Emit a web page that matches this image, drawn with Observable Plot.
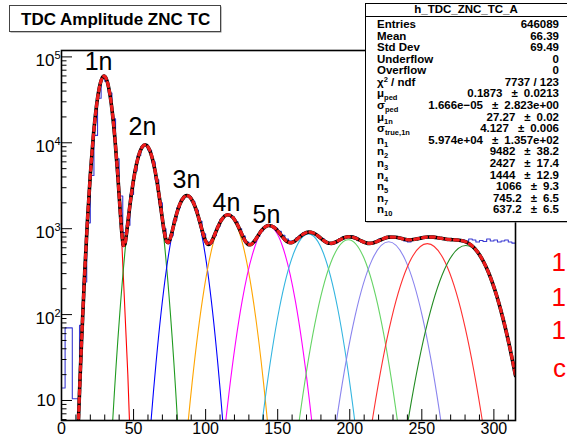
<!DOCTYPE html>
<html><head><meta charset="utf-8">
<script src="https://cdn.jsdelivr.net/npm/d3@7"></script>
<script src="https://cdn.jsdelivr.net/npm/@observablehq/plot@0.6"></script>
<style>
html,body{margin:0;padding:0;background:#fff;}
#wrap{position:relative;width:567px;height:438px;overflow:hidden;background:#fff;font-family:"Liberation Sans",Arial,sans-serif;}
#wrap svg{position:absolute;left:0;top:0;}
</style></head>
<body><div id="wrap"></div>
<script>
// ---------------- data ----------------
const titleText = "TDC Amplitude ZNC TC";
const histName = "h_TDC_ZNC_TC_A";
const binStart = 0, binWidth = 2.5;
const histValues = [
  14, 70, 70, 10.5, 10.5, 75, 240, 1170, 4170, 12200,
  33000, 56000, 52000, 38000, 19000, 6500, 2400, 900, 1100, 2500,
  4700, 7100, 9000, 9500, 8200, 6000, 3700, 2000, 1000, 700,
  830, 1250, 1750, 2200, 2420, 2350, 2080, 1650, 1220, 870,
  700, 680, 830, 1060, 1290, 1430, 1450, 1370, 1200, 1000,
  820, 700, 660, 700, 810, 940, 1050, 1100, 1080, 1010,
  930, 840, 760, 720, 720, 780, 840, 900, 920, 900,
  850, 790, 760, 700, 660, 680, 720, 770, 800, 790,
  820, 800, 740, 700, 680, 680, 690, 720, 760, 770,
  800, 790, 800, 780, 760, 720, 700, 740, 760, 770,
  790, 800, 800, 790, 780, 770, 750, 750, 740, 740,
  730, 740, 720, 760, 740, 700, 730, 710, 760, 720,
  740, 700, 720, 740, 700, 680
];
const totalX = [
  11, 12, 13, 14, 16, 18, 20, 22, 24, 26,
  28, 29.5, 31, 33, 35, 37, 39, 41, 42, 43,
  44, 45, 46, 48, 50, 52, 54, 56, 58, 60,
  62, 64, 66, 68, 70, 71, 72, 73, 74, 75,
  76, 78, 80, 82, 84, 87, 90, 92, 94, 96,
  98, 99, 100, 101, 102, 103, 104, 106, 108, 111,
  115.4, 119, 122, 124, 126, 127, 128, 129, 130, 131,
  132, 134, 136, 139, 143.8, 148, 151, 153, 155, 156,
  157, 158, 159, 160, 162, 165, 168, 171.4, 175, 178,
  181, 183, 185, 186, 187, 188, 190, 193, 196, 199,
  202, 205, 208, 210, 212, 213, 214, 216, 219, 222,
  227, 232, 236, 239, 240, 241, 243, 246, 250, 253.8,
  258, 262, 265, 267, 269, 271, 274, 277, 280.5, 284,
  287, 290, 293, 296, 299, 302, 305, 308, 311, 313,
  315
];
const totalY = [
  2.63, 7.55, 20.5, 52.2, 286, 1239, 4236, 11480, 24600, 41690,
  55870, 59740, 55870, 41690, 24604, 11495, 4284, 1376, 835, 637,
  662, 849, 1170, 2193, 3714, 5598, 7503, 8945, 9483, 8947,
  7508, 5612, 3746, 2261, 1293, 995, 805, 708, 688, 731,
  825, 1126, 1511, 1903, 2223, 2431, 2235, 1926, 1554, 1191,
  900, 795, 719, 673, 657, 667, 702, 828, 1001, 1265,
  1454, 1344, 1116, 948, 801, 743, 698, 668, 652, 651,
  664, 723, 813, 961, 1091, 1022, 901, 816, 745, 719,
  701, 690, 687, 692, 721, 796, 871, 913, 888, 823,
  748, 707, 682, 676, 675, 678, 696, 740, 784, 806,
  798, 764, 720, 695, 679, 675, 674, 681, 710, 749,
  798, 794, 767, 749, 745, 743, 744, 757, 782, 800,
  798, 780, 764, 755, 749, 745, 740, 730, 703, 649,
  581, 498, 407, 317, 234.4, 164.7, 109.6, 69.4, 41.7, 28.8,
  19.4
];
const comp1X = [8.85, 12.98, 17.11, 21.24, 25.37, 29.5, 33.63, 37.76, 41.89, 46.02, 50.15];
const comp1Y = [0.223, 20.0, 663.7, 8083, 36233, 59740, 36233, 8083, 663.7, 20.0, 0.223];
const comp2X = [28.8, 34.64, 40.48, 46.32, 52.16, 58, 63.84, 69.68, 75.52, 81.36, 87.2];
const comp2Y = [0.0353, 3.18, 105.3, 1283, 5751, 9482, 5751, 1283, 105.3, 3.18, 0.0353];
const comp3X = [51.25, 58.4, 65.55, 72.7, 79.85, 87, 94.15, 101.3, 108.45, 115.6, 122.75];
const comp3Y = [0.00905, 0.814, 26.96, 328.4, 1472, 2427, 1472, 328.4, 26.96, 0.814, 0.00905];
const comp4X = [74.1, 82.36, 90.62, 98.88, 107.14, 115.4, 123.66, 131.92, 140.18, 148.44, 156.7];
const comp4Y = [0.00538, 0.4843, 16.04, 195.4, 875.8, 1444, 875.8, 195.4, 16.04, 0.4843, 0.00538];
const comp5X = [97.65, 106.88, 116.11, 125.34, 134.57, 143.8, 153.03, 162.26, 171.49, 180.72, 189.95];
const comp5Y = [0.00397, 0.3575, 11.84, 144.2, 646.5, 1066, 646.5, 144.2, 11.84, 0.3575, 0.00397];
const comp6X = [120.8, 130.92, 141.04, 151.16, 161.28, 171.4, 181.52, 191.64, 201.76, 211.88, 222.0];
const comp6Y = [0.00324, 0.2918, 9.666, 117.7, 527.7, 870, 527.7, 117.7, 9.666, 0.2918, 0.00324];
const comp7X = [144.35, 155.28, 166.21, 177.14, 188.07, 199, 209.93, 220.86, 231.79, 242.72, 253.65];
const comp7Y = [0.00278, 0.2499, 8.277, 100.8, 451.8, 745, 451.8, 100.8, 8.277, 0.2499, 0.00278];
const comp8X = [168.6, 180.28, 191.96, 203.64, 215.32, 227, 238.68, 250.36, 262.04, 273.72, 285.4];
const comp8Y = [0.00263, 0.2365, 7.833, 95.39, 427.6, 705, 427.6, 95.39, 7.833, 0.2365, 0.00263];
const comp9X = [191.85, 204.24, 216.63, 229.02, 241.41, 253.8, 266.19, 278.58, 290.97, 303.36, 315.75];
const comp9Y = [0.0025, 0.2247, 7.444, 90.65, 406.4, 670, 406.4, 90.65, 7.444, 0.2247, 0.0025];
const comp10X = [215.2, 228.26, 241.32, 254.38, 267.44, 280.5, 293.56, 306.62, 319.68, 332.74, 345.8];
const comp10Y = [0.00237, 0.2137, 7.077, 86.19, 386.3, 637, 386.3, 86.19, 7.077, 0.2137, 0.00237];

const peakLabels = ["1n", "2n", "3n", "4n", "5n"];
const peakLabelX = [25.7, 56.2, 86.7, 114.5, 142.2];
const peakLabelY = [86100, 15070, 3640, 2018, 1426];

const xMajor = [0, 50, 100, 150, 200, 250, 300];
const xMinor = [10, 20, 30, 40, 60, 70, 80, 90, 110, 120, 130, 140, 160, 170, 180, 190, 210, 220, 230, 240, 260, 270, 280, 290, 310];
const yMajor = [10, 100, 1000, 10000, 100000];
const yTickLabels = ["10", "10^2", "10^3", "10^4", "10^5"];
const yMinor = [6, 7, 8, 9, 20, 30, 40, 50, 60, 70, 80, 90, 200, 300, 400, 500, 600, 700, 800, 900,
  2000, 3000, 4000, 5000, 6000, 7000, 8000, 9000, 20000, 30000, 40000, 50000, 60000, 70000, 80000, 90000];

const statsLabels = [["Entries"], ["Mean"], ["Std Dev"], ["Underflow"], ["Overflow"], ["χ", "^2", " / ndf"],
  ["μ", "_ped"], ["σ", "_ped"], ["μ", "_1n"], ["σ", "_true,1n"], ["n", "_1"], ["n", "_2"], ["n", "_3"],
  ["n", "_4"], ["n", "_5"], ["n", "_7"], ["n", "_10"]];
const statsValues = ["646089", "66.39", "69.49", "0", "0", "7737 / 123", "0.1873 ± 0.0213",
  "1.666e−05 ± 2.823e+00", "27.27 ± 0.02", "4.127 ± 0.006", "5.974e+04 ± 1.357e+02", "9482 ± 38.2",
  "2427 ± 17.4", "1444 ± 12.9", "1066 ± 9.3", "745.2 ± 6.5", "637.2 ± 6.5"];
const sideTexts = ["1", "1", "1", "c"];

// ---------------- build ----------------
const compX = [comp1X, comp2X, comp3X, comp4X, comp5X, comp6X, comp7X, comp8X, comp9X, comp10X];
const compY = [comp1Y, comp2Y, comp3Y, comp4Y, comp5Y, comp6Y, comp7Y, comp8Y, comp9Y, comp10Y];
const compColors = ["#ff0000", "#1f9a1f", "#0000ff", "#ffa500", "#ff00ff", "#33b5e0", "#66d466", "#8a84ee", "#ff3030", "#228b22"];
const histColor = "#3a3ad2";

const histPoints = histValues.map((v, i) => ({x: binStart + i * binWidth, y: v}));
histPoints.push({x: binStart + histValues.length * binWidth, y: histValues[histValues.length - 1]});
const totalPoints = totalX.map((x, i) => ({x, y: totalY[i]}));
const labelData = peakLabels.map((t, i) => ({t, x: peakLabelX[i], y: peakLabelY[i]}));

const font = "'Liberation Sans', Arial, Helvetica, sans-serif";

const plot = Plot.plot({
  width: 567, height: 438,
  marginLeft: 61, marginRight: 52, marginTop: 50, marginBottom: 18,
  style: {fontFamily: font, fontSize: "16px", background: "transparent", color: "black"},
  x: {domain: [0, 315], axis: null},
  y: {type: "log", domain: [5.85, 118700], axis: null},
  marks: [
    ...compX.map((xs, i) => Plot.line(xs.map((x, j) => ({x, y: compY[i][j]})),
      {x: "x", y: "y", stroke: compColors[i], strokeWidth: 1.1, curve: "natural", clip: true})),
    Plot.line(histPoints, {x: "x", y: "y", stroke: histColor, strokeWidth: 1.1, curve: "step-after", clip: true}),
    Plot.line(totalPoints, {x: "x", y: "y", stroke: "black", strokeWidth: 3.6, curve: "monotone-x", clip: true}),
    Plot.line(totalPoints, {x: "x", y: "y", stroke: "#ee1c1c", strokeWidth: 3.2, strokeDasharray: "4,4", curve: "monotone-x", clip: true}),
    Plot.text(labelData, {x: "x", y: "y", text: "t", fontSize: 25, fill: "black", fontFamily: font}),
    Plot.frame({stroke: "black", strokeWidth: 1.6}),
    Plot.axisX(xMajor, {tickSize: -11, tickFormat: () => "", label: null}),
    Plot.axisX(xMinor, {tickSize: -5.5, tickFormat: () => "", label: null}),
    Plot.axisX(xMajor, {tickSize: 0, tickPadding: 2, tickFormat: d => String(d), label: null, fontSize: 16}),
    Plot.axisY(yMajor, {tickSize: -11, tickFormat: () => "", label: null}),
    Plot.axisY(yMinor, {tickSize: -5.5, tickFormat: () => "", label: null}),
    Plot.axisY(yMajor, {tickSize: 0, tickPadding: 1, tickFormat: d => yTickLabels[yMajor.indexOf(d)], label: null, fontSize: 17})
  ]
});
document.getElementById("wrap").appendChild(plot);

// superscripts on log labels
plot.querySelectorAll('[aria-label="y-axis tick label"] text').forEach(t => {
  const s = t.textContent;
  if (s.includes("^")) {
    const [b, e] = s.split("^");
    t.textContent = "";
    const ns = "http://www.w3.org/2000/svg";
    const t1 = document.createElementNS(ns, "tspan"); t1.setAttribute("dy", "4"); t1.textContent = b;
    const t2 = document.createElementNS(ns, "tspan"); t2.setAttribute("dy", "-7"); t2.setAttribute("font-size", "11"); t2.textContent = e;
    t.appendChild(t1); t.appendChild(t2);
  } else if (s === "10") {
    t.setAttribute("dx", "-5");
  }
});

// overlay: title, stats box, side text
const ov = d3.select("#wrap").append("svg").attr("width", 567).attr("height", 438)
  .style("font-family", font);
// title box
ov.append("rect").attr("x", 10.5).attr("y", 6.5).attr("width", 211).attr("height", 26).attr("fill", "#888");
ov.append("rect").attr("x", 9.5).attr("y", 5.5).attr("width", 211).attr("height", 26).attr("fill", "white").attr("stroke", "#444");
ov.append("text").attr("x", 21).attr("y", 24.5).attr("font-size", 17).attr("font-weight", "bold").text(titleText);
// stats box
ov.append("rect").attr("x", 366.5).attr("y", 4.5).attr("width", 210).attr("height", 218).attr("fill", "#777");
ov.append("rect").attr("x", 365.5).attr("y", 3.5).attr("width", 210).attr("height", 218).attr("fill", "white").attr("stroke", "black");
ov.append("line").attr("x1", 365.5).attr("x2", 575).attr("y1", 16.5).attr("y2", 16.5).attr("stroke", "black");
ov.append("text").attr("x", 466).attr("y", 13).attr("text-anchor", "middle").attr("font-size", 11.5).attr("font-weight", "bold").text(histName);
statsLabels.forEach((parts, i) => {
  const y = 28 + i * 11.58;
  const t = ov.append("text").attr("x", 377).attr("y", y).attr("font-size", 11.5).attr("font-weight", "bold");
  let shift = 0;
  parts.forEach(p => {
    if (p[0] === "_" || p[0] === "^") {
      const d = p[0] === "_" ? 3 : -4;
      t.append("tspan").attr("dy", d - shift).attr("font-size", 7.5).text(p.slice(1));
      shift = d;
    } else {
      t.append("tspan").attr("dy", -shift).text(p);
      shift = 0;
    }
  });
  const v = ov.append("text").attr("x", 559).attr("y", y).attr("text-anchor", "end").attr("font-size", 11.5).attr("font-weight", "bold");
  const pieces = statsValues[i].split(" ± ");
  if (pieces.length === 2) {
    v.append("tspan").text(pieces[0]);
    v.append("tspan").attr("dx", 9).text("±");
    v.append("tspan").attr("dx", 6).text(pieces[1]);
  } else {
    v.text(statsValues[i]);
  }
});
// red text at the right edge (kept inside the page)
const sideY = [271, 306, 339, 377];
sideTexts.forEach((s, i) => {
  ov.append("text").attr("x", 566).attr("y", sideY[i]).attr("text-anchor", "end").attr("font-size", 26).attr("fill", "red").text(s);
});
</script>
</body></html>
